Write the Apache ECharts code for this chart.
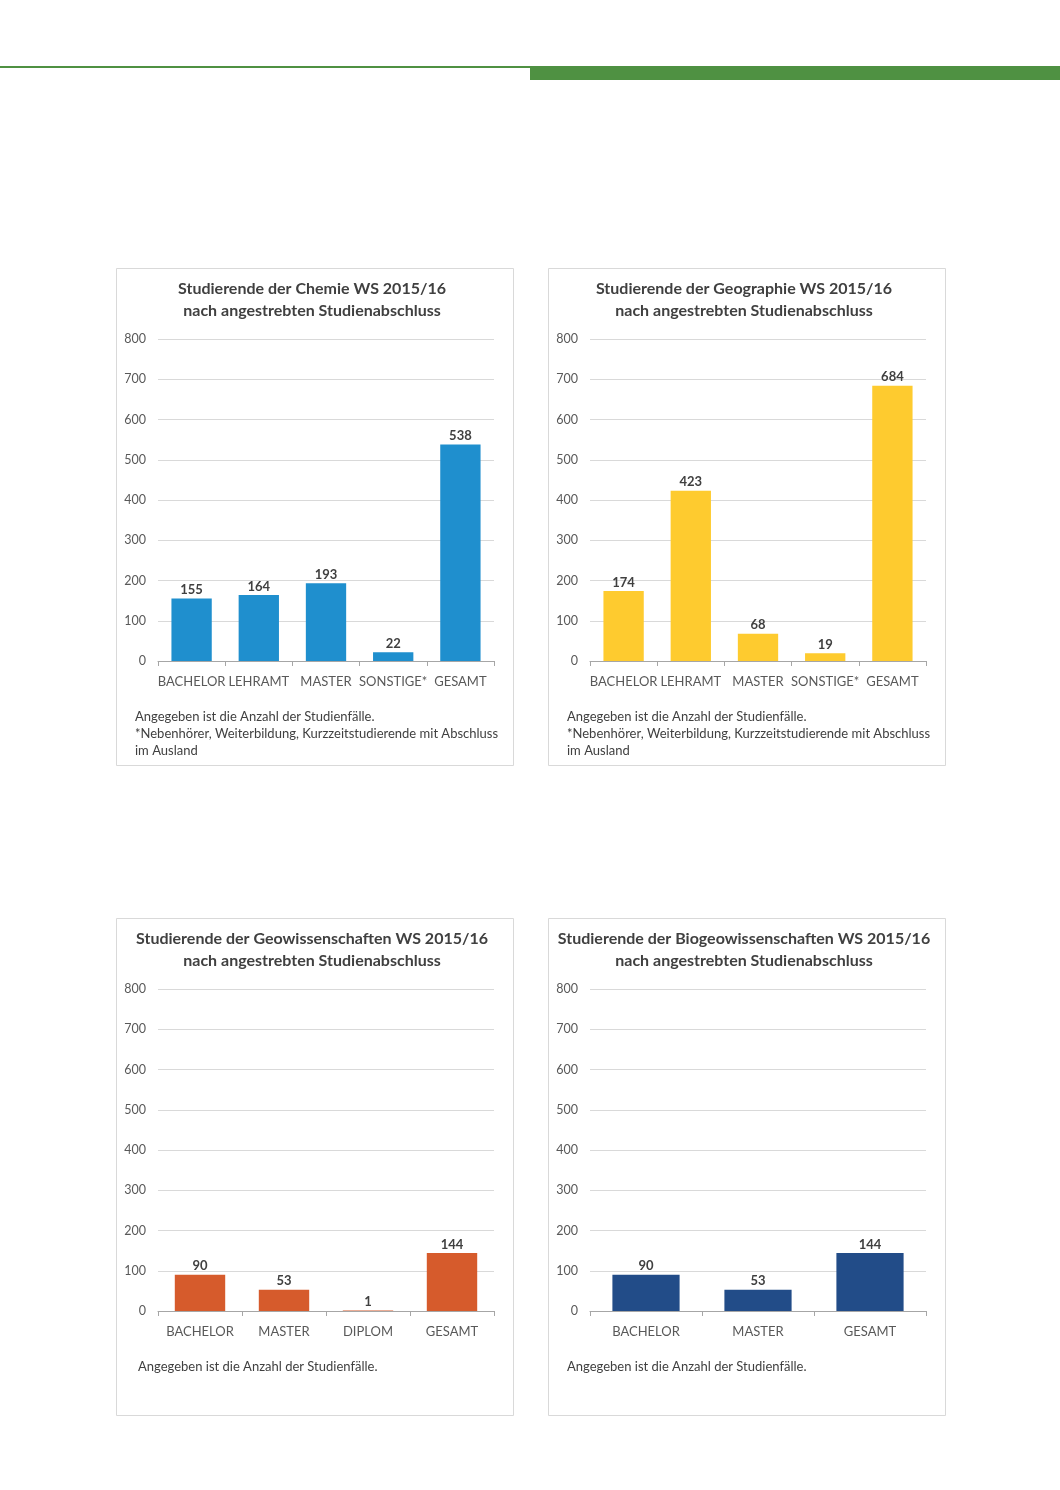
<!DOCTYPE html>
<html><head><meta charset="utf-8">
<script src="https://cdn.jsdelivr.net/npm/echarts@6/dist/echarts.min.js"></script>
<style>html,body{margin:0;padding:0;background:#fff}#c{width:1060px;height:1490px}</style>
</head><body><div id="c"></div>
<script>
// Data
const chemieCats = ['BACHELOR','LEHRAMT','MASTER','SONSTIGE*','GESAMT'];
const chemieVals = [155,164,193,22,538];
const geographieCats = ['BACHELOR','LEHRAMT','MASTER','SONSTIGE*','GESAMT'];
const geographieVals = [174,423,68,19,684];
const geowissCats = ['BACHELOR','MASTER','DIPLOM','GESAMT'];
const geowissVals = [90,53,1,144];
const biogeoCats = ['BACHELOR','MASTER','GESAMT'];
const biogeoVals = [90,53,144];
const titles = [
  'Studierende der Chemie WS 2015/16\nnach angestrebten Studienabschluss',
  'Studierende der Geographie WS 2015/16\nnach angestrebten Studienabschluss',
  'Studierende der Geowissenschaften WS 2015/16\nnach angestrebten Studienabschluss',
  'Studierende der Biogeowissenschaften WS 2015/16\nnach angestrebten Studienabschluss'
];
const note1 = 'Angegeben ist die Anzahl der Studienfälle.';
const note2 = '*Nebenhörer, Weiterbildung, Kurzzeitstudierende mit Abschluss\nim Ausland';

const FONT = 'Lato, "Open Sans", sans-serif';
const panels = [
  {x:116,y:268,cats:chemieCats,vals:chemieVals,color:'#1f8fce'},
  {x:548,y:268,cats:geographieCats,vals:geographieVals,color:'#fecb2f'},
  {x:116,y:918,cats:geowissCats,vals:geowissVals,color:'#d65b2c'},
  {x:548,y:918,cats:biogeoCats,vals:biogeoVals,color:'#224c88'}
];
const PW=397, PH=497;
const grids=[],xAxes=[],yAxes=[],series=[],graphic=[];
// header lines
graphic.push({type:'rect',shape:{x:0,y:66,width:531,height:2},style:{fill:'#4f9142'},silent:true});
graphic.push({type:'rect',shape:{x:530,y:66,width:530,height:14},style:{fill:'#4f9142'},silent:true});
panels.forEach((p,i)=>{
  graphic.push({type:'rect',shape:{x:p.x+0.5,y:p.y+0.5,width:PW,height:PH},style:{fill:'none',stroke:'#d9d9d9',lineWidth:1},silent:true});
  graphic.push({type:'text',x:p.x+196,y:p.y+10,silent:true,
    style:{text:titles[i],align:'center',verticalAlign:'top',fontFamily:FONT,fontSize:16,fontWeight:'bold',fill:'#404040',lineHeight:22}});
  grids.push({left:p.x+42,top:p.y+71,width:336,height:322});
  xAxes.push({type:'category',gridIndex:i,data:p.cats,
    axisLine:{lineStyle:{color:'#a6a6a6'}},axisTick:{show:true,length:5,lineStyle:{color:'#a6a6a6'}},
    axisLabel:{interval:0,fontFamily:FONT,fontSize:13,color:'#595959',margin:14}});
  yAxes.push({type:'value',gridIndex:i,min:0,max:800,interval:100,
    axisLine:{show:false},axisTick:{show:false},
    splitLine:{lineStyle:{color:'#d9d9d9'}},
    axisLabel:{fontFamily:FONT,fontSize:12.5,color:'#595959',margin:12}});
  series.push({type:'bar',xAxisIndex:i,yAxisIndex:i,data:p.vals,barCategoryGap:'40%',
    itemStyle:{color:p.color},
    label:{show:true,position:'top',distance:2,fontFamily:FONT,fontSize:13,fontWeight:'bold',color:'#404040'}});
  const ny = p.y+440;
  const txt = i<2 ? note1+'\n'+note2 : note1;
  graphic.push({type:'text',x:p.x+(i==2?22:19),y:ny,silent:true,
    style:{text:txt,fontFamily:FONT,fontSize:13,fill:'#404040',lineHeight:17,verticalAlign:'top'}});
});
const chart = echarts.init(document.getElementById('c'),null,{renderer:'canvas'});
chart.setOption({animation:false,backgroundColor:'#fff',grid:grids,xAxis:xAxes,yAxis:yAxes,series,graphic});
</script></body></html>
